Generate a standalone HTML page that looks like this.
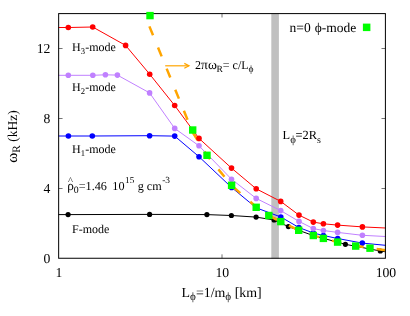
<!DOCTYPE html>
<html><head><meta charset="utf-8"><title>chart</title>
<style>html,body{margin:0;padding:0;background:#fff;}body{width:410px;height:316px;position:relative;overflow:hidden;font-family:"Liberation Serif",serif;}</style>
</head><body>
<svg width="410" height="316" viewBox="0 0 410 316" style="position:absolute;left:0;top:0;will-change:transform;text-rendering:geometricPrecision;font-family:'Liberation Serif',serif;">

<rect x="271.3" y="13.5" width="7.6" height="245" fill="#c0c0c0"/>
<path d="M58.5,214.6 L68.1,214.6 L149.6,214.4 L206.9,214.6 L231.4,215.5 L256.1,217.1 L274.1,220.0 L288.4,226.6 L313.3,235.6 L345.4,244.3 L380.3,251.0 L385.5,251.8" fill="none" stroke="#000" stroke-width="1.0" stroke-linejoin="round"/>
<circle cx="68.1" cy="214.6" r="2.6" fill="#000"/><circle cx="149.6" cy="214.4" r="2.6" fill="#000"/><circle cx="206.9" cy="214.6" r="2.6" fill="#000"/><circle cx="231.4" cy="215.5" r="2.6" fill="#000"/><circle cx="256.1" cy="217.1" r="2.6" fill="#000"/><circle cx="274.1" cy="220.0" r="2.6" fill="#000"/><circle cx="288.4" cy="226.6" r="2.6" fill="#000"/><circle cx="345.4" cy="244.3" r="2.6" fill="#000"/><circle cx="380.3" cy="251.0" r="2.6" fill="#000"/>
<path d="M58.5,136.0 L68.4,136.0 L92.3,136.0 L149.6,135.7 L174.7,136.1 L199.0,156.7 L231.5,187.4 L256.2,207.8 L280.8,217.0 L298.9,227.5 L313.3,233.0 L323.4,235.5 L337.7,238.5 L362.3,243.1 L385.5,245.3" fill="none" stroke="#0000ff" stroke-width="1.0" stroke-linejoin="round"/>
<circle cx="68.4" cy="136.0" r="2.8" fill="#0000ff"/><circle cx="92.3" cy="136.0" r="2.8" fill="#0000ff"/><circle cx="149.6" cy="135.7" r="2.8" fill="#0000ff"/><circle cx="174.7" cy="136.1" r="2.8" fill="#0000ff"/><circle cx="199.0" cy="156.7" r="2.8" fill="#0000ff"/><circle cx="231.5" cy="187.4" r="2.8" fill="#0000ff"/><circle cx="256.2" cy="207.8" r="2.8" fill="#0000ff"/><circle cx="280.8" cy="217.0" r="2.8" fill="#0000ff"/><circle cx="298.9" cy="227.5" r="2.8" fill="#0000ff"/><circle cx="313.3" cy="233.0" r="2.8" fill="#0000ff"/><circle cx="323.4" cy="235.5" r="2.8" fill="#0000ff"/><circle cx="337.7" cy="238.5" r="2.8" fill="#0000ff"/><circle cx="362.3" cy="243.1" r="2.8" fill="#0000ff"/>
<path d="M149.40,26.40 L192.70,132.36 L207.00,155.37 L231.60,185.57 L256.20,206.92 L268.80,215.31 L280.80,222.02 L298.70,230.15 L313.30,235.42 L323.40,238.48 L337.60,242.11 L355.70,245.80 L370.00,248.11 L385.50,250.15" fill="none" stroke="#ffa500" stroke-width="2.5" stroke-dasharray="9.6 13.2"/>
<path d="M58.5,75.3 L68.3,75.3 L92.8,75.3 L105.4,74.8 L117.4,75.1 L149.6,92.9 L174.7,128.4 L199.0,145.8 L231.5,179.2 L256.2,198.4 L280.7,210.6 L299.0,221.4 L313.3,228.6 L323.4,230.5 L337.6,232.4 L362.4,235.3 L385.5,236.5" fill="none" stroke="#c080ff" stroke-width="1.0" stroke-linejoin="round"/>
<circle cx="68.3" cy="75.3" r="2.8" fill="#c080ff"/><circle cx="92.8" cy="75.3" r="2.8" fill="#c080ff"/><circle cx="105.4" cy="74.8" r="2.8" fill="#c080ff"/><circle cx="117.4" cy="75.1" r="2.8" fill="#c080ff"/><circle cx="149.6" cy="92.9" r="2.8" fill="#c080ff"/><circle cx="174.7" cy="128.4" r="2.8" fill="#c080ff"/><circle cx="199.0" cy="145.8" r="2.8" fill="#c080ff"/><circle cx="231.5" cy="179.2" r="2.8" fill="#c080ff"/><circle cx="256.2" cy="198.4" r="2.8" fill="#c080ff"/><circle cx="280.7" cy="210.6" r="2.8" fill="#c080ff"/><circle cx="299.0" cy="221.4" r="2.8" fill="#c080ff"/><circle cx="313.3" cy="228.6" r="2.8" fill="#c080ff"/><circle cx="323.4" cy="230.5" r="2.8" fill="#c080ff"/><circle cx="337.6" cy="232.4" r="2.8" fill="#c080ff"/><circle cx="362.4" cy="235.3" r="2.8" fill="#c080ff"/>
<path d="M58.5,27.5 L68.3,27.5 L92.7,27.0 L125.6,45.4 L149.7,74.2 L174.7,105.5 L199.0,138.4 L231.5,168.1 L256.2,188.8 L280.7,201.4 L299.0,215.1 L313.3,222.1 L323.4,223.8 L337.6,225.1 L362.4,226.9 L385.5,228.0" fill="none" stroke="#ff0000" stroke-width="1.0" stroke-linejoin="round"/>
<circle cx="68.3" cy="27.5" r="2.8" fill="#ff0000"/><circle cx="92.7" cy="27.0" r="2.8" fill="#ff0000"/><circle cx="125.6" cy="45.4" r="2.8" fill="#ff0000"/><circle cx="149.7" cy="74.2" r="2.8" fill="#ff0000"/><circle cx="174.7" cy="105.5" r="2.8" fill="#ff0000"/><circle cx="199.0" cy="138.4" r="2.8" fill="#ff0000"/><circle cx="231.5" cy="168.1" r="2.8" fill="#ff0000"/><circle cx="256.2" cy="188.8" r="2.8" fill="#ff0000"/><circle cx="280.7" cy="201.4" r="2.8" fill="#ff0000"/><circle cx="299.0" cy="215.1" r="2.8" fill="#ff0000"/><circle cx="313.3" cy="222.1" r="2.8" fill="#ff0000"/><circle cx="323.4" cy="223.8" r="2.8" fill="#ff0000"/><circle cx="337.6" cy="225.1" r="2.8" fill="#ff0000"/><circle cx="362.4" cy="226.9" r="2.8" fill="#ff0000"/>
<path d="M165.2,65.8 H189" stroke="#ffa500" stroke-width="1.2" fill="none"/><path d="M184.3,63.4 L189,65.8 L184.3,68.2" stroke="#ffa500" stroke-width="1.2" fill="none"/>
<g stroke="#000" stroke-width="1" fill="none"><rect x="58.65" y="13.6" width="326.75" height="244.65"/></g><g stroke="#000" stroke-width="0.55" fill="none"><path d="M58.65,188.5 h3.9 M385.4,188.5 h-3.9"/><path d="M58.65,118.5 h3.9 M385.4,118.5 h-3.9"/><path d="M58.65,48.5 h3.9 M385.4,48.5 h-3.9"/><path d="M222.0,258.25 v-3.9 M222.0,13.6 v3.9"/></g>
<rect x="146.3" y="11.9" width="7.4" height="7.4" fill="#00ff00"/><rect x="189.0" y="126.3" width="7.4" height="7.4" fill="#00ff00"/><rect x="203.3" y="151.6" width="7.4" height="7.4" fill="#00ff00"/><rect x="227.9" y="181.6" width="7.4" height="7.4" fill="#00ff00"/><rect x="252.5" y="203.6" width="7.4" height="7.4" fill="#00ff00"/><rect x="265.1" y="211.8" width="7.4" height="7.4" fill="#00ff00"/><rect x="277.1" y="217.9" width="7.4" height="7.4" fill="#00ff00"/><rect x="295.0" y="226.6" width="7.4" height="7.4" fill="#00ff00"/><rect x="309.6" y="231.8" width="7.4" height="7.4" fill="#00ff00"/><rect x="319.7" y="234.7" width="7.4" height="7.4" fill="#00ff00"/><rect x="333.9" y="238.4" width="7.4" height="7.4" fill="#00ff00"/><rect x="352.0" y="242.4" width="7.4" height="7.4" fill="#00ff00"/><rect x="366.3" y="244.5" width="7.4" height="7.4" fill="#00ff00"/><rect x="362.9" y="23.6" width="7.5" height="7.5" fill="#00ff00"/>
<g fill="#000" font-size="13.7px"><text x="50.4" y="263.0" text-anchor="end">0</text><text x="50.4" y="193.0" text-anchor="end">4</text><text x="50.4" y="123.0" text-anchor="end">8</text><text x="50.4" y="53.0" text-anchor="end">12</text><text x="58.8" y="277" text-anchor="middle">1</text><text x="222.3" y="277" text-anchor="middle">10</text><text x="385.9" y="277" text-anchor="middle">100</text></g>
<g fill="#000"><text x="72.0" y="51.4" font-size="12px"><tspan font-size="12px">H</tspan><tspan font-size="8.6px" dy="3.00">3</tspan><tspan font-size="12px" dy="-3.00" dx="0.3">-mode</tspan></text><text x="72.0" y="91.4" font-size="12px"><tspan font-size="12px">H</tspan><tspan font-size="8.6px" dy="3.00">2</tspan><tspan font-size="12px" dy="-3.00" dx="0.3">-mode</tspan></text><text x="72.0" y="152.8" font-size="12px"><tspan font-size="12px">H</tspan><tspan font-size="8.6px" dy="3.00">1</tspan><tspan font-size="12px" dy="-3.00" dx="0.3">-mode</tspan></text><text x="72.0" y="232.9" font-size="12px"><tspan font-size="12px">F-mode</tspan></text><text x="195" y="68.7" font-size="12px"><tspan font-size="12px">2</tspan><tspan font-size="13.6px">π</tspan><tspan font-size="13.6px">ω</tspan><tspan font-size="9.6px" dy="3.40" dx="-0.4">R</tspan><tspan font-size="12px" dy="-3.40">= c/L</tspan><tspan font-size="9.6px" dy="3.40">ϕ</tspan></text><text x="67.2" y="189.9" font-size="12.2px"><tspan font-size="13.2px">ρ</tspan><tspan font-size="9.8px" dy="3.40">0</tspan><tspan font-size="12.2px" dy="-3.40">=1.46</tspan><tspan font-size="12.2px" dx="5.4">10</tspan><tspan font-size="9.2px" dy="-6.80" dx="0.6">15</tspan><tspan font-size="12.2px" dy="6.80" dx="0.3"> g cm</tspan><tspan font-size="9.4px" dy="-6.80" dx="0.6">-3</tspan></text><text x="68.0" y="184.3" font-size="10.5px">^</text><text x="289.6" y="32" font-size="13.5px"><tspan font-size="13.5px">n=0</tspan><tspan font-size="13.5px" dx="0.6"> ϕ-mode</tspan></text><text x="282.6" y="139.4" font-size="12.4px"><tspan font-size="12.4px">L</tspan><tspan font-size="10.8px" dy="3.80">ϕ</tspan><tspan font-size="12.4px" dy="-3.80" dx="-0.3">=2R</tspan><tspan font-size="10px" dy="3.60">s</tspan></text><text x="221.6" y="296.5" font-size="13.9px" text-anchor="middle"><tspan font-size="13.9px">L</tspan><tspan font-size="11.1px" dy="3.80">ϕ</tspan><tspan font-size="13.9px" dy="-3.80">=1/m</tspan><tspan font-size="11.1px" dy="3.80">ϕ</tspan><tspan font-size="13.9px" dy="-3.80"> [km]</tspan></text><text transform="translate(16.5,162.7) rotate(-90)" font-size="13.5px"><tspan font-size="15.2px">ω</tspan><tspan font-size="11.3px" dy="3.80">R</tspan><tspan font-size="13.5px" dy="-3.80"> (kHz)</tspan></text></g>
</svg>
</body></html>
